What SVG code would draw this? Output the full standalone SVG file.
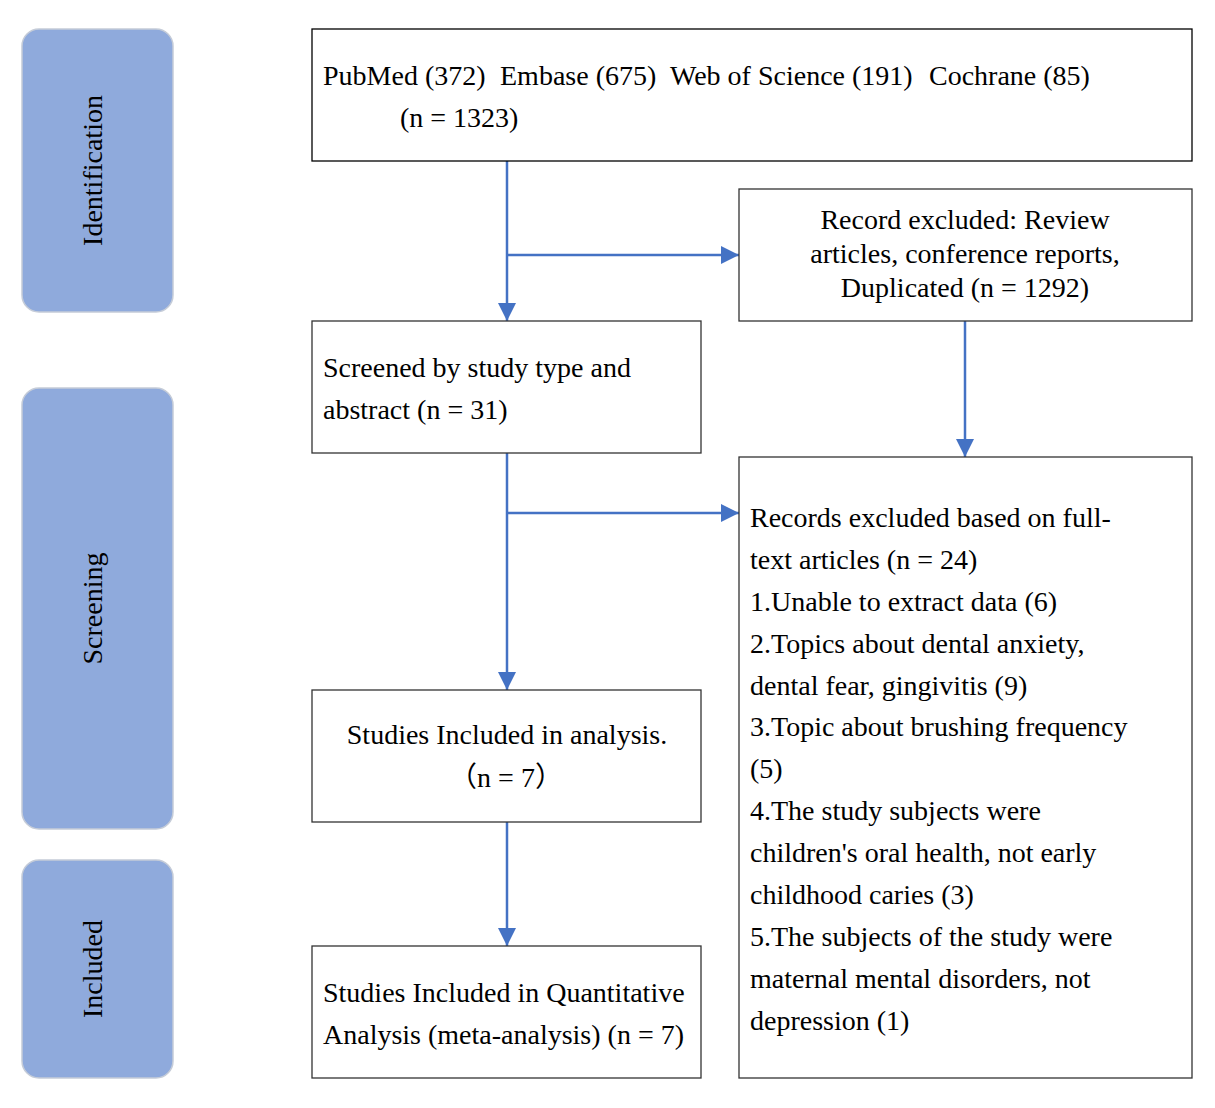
<svg xmlns="http://www.w3.org/2000/svg" width="1215" height="1108" viewBox="0 0 1215 1108">
<style>
.panel{fill:#8faadc;stroke:#c5ccd8;stroke-width:1.5}
.box{fill:#fff;stroke:#333;stroke-width:1.3}
.t{font-family:"Liberation Serif","Times New Roman",serif;font-size:28px;fill:#000}
.c{text-anchor:middle}
.cj{font-family:"Liberation Serif","Noto Sans CJK SC",serif}
.conn{fill:none;stroke:#4472c4;stroke-width:2.5}
</style>
<defs>
<marker id="ah" markerUnits="userSpaceOnUse" markerWidth="20" markerHeight="18" viewBox="0 0 20 18" refX="18" refY="9" orient="auto">
<path d="M0,0 L18,9 L0,18 Z" fill="#4472c4"/>
</marker>
</defs>
<rect width="1215" height="1108" fill="#fff"/>

<g id="panel-identification">
<rect class="panel" x="22" y="29" width="151" height="283" rx="17"/>
<text class="t c" transform="translate(102,170.5) rotate(-90)">Identification</text>
</g>
<g id="panel-screening">
<rect class="panel" x="22" y="388" width="151" height="441" rx="17"/>
<text class="t c" transform="translate(102,608.5) rotate(-90)">Screening</text>
</g>
<g id="panel-included">
<rect class="panel" x="22" y="860" width="151" height="218" rx="17"/>
<text class="t c" transform="translate(102,969) rotate(-90)">Included</text>
</g>

<g id="connectors">
<path class="conn" d="M507,161 V321" marker-end="url(#ah)"/>
<path class="conn" d="M507,255 H739" marker-end="url(#ah)"/>
<path class="conn" d="M965,321 V457" marker-end="url(#ah)"/>
<path class="conn" d="M507,453 V690" marker-end="url(#ah)"/>
<path class="conn" d="M507,513 H739" marker-end="url(#ah)"/>
<path class="conn" d="M507,822 V946" marker-end="url(#ah)"/>
</g>

<g id="node-identified">
<rect class="box" x="312" y="29" width="880" height="132" style="stroke:#000"/>
<text class="t" y="85"><tspan x="323">PubMed (372)</tspan><tspan x="500">Embase (675)</tspan><tspan x="670">Web of Science (191)</tspan><tspan x="929">Cochrane (85)</tspan></text>
<text class="t" x="400" y="127">(n = 1323)</text>
</g>

<g id="node-excluded-1">
<rect class="box" x="739" y="189" width="453" height="132"/>
<text class="t c" x="965" y="229">Record excluded: Review</text>
<text class="t c" x="965" y="263">articles, conference reports,</text>
<text class="t c" x="965" y="297">Duplicated (n = 1292)</text>
</g>

<g id="node-screened">
<rect class="box" x="312" y="321" width="389" height="132"/>
<text class="t" x="323" y="377">Screened by study type and</text>
<text class="t" x="323" y="419">abstract (n = 31)</text>
</g>

<g id="node-excluded-2">
<rect class="box" x="739" y="457" width="453" height="621"/>
<text class="t" x="750" y="527">Records excluded based on full-</text>
<text class="t" x="750" y="569">text articles (n = 24)</text>
<text class="t" x="750" y="611">1.Unable to extract data (6)</text>
<text class="t" x="750" y="653">2.Topics about dental anxiety,</text>
<text class="t" x="750" y="695">dental fear, gingivitis (9)</text>
<text class="t" x="750" y="736">3.Topic about brushing frequency</text>
<text class="t" x="750" y="778">(5)</text>
<text class="t" x="750" y="820">4.The study subjects were</text>
<text class="t" x="750" y="862">children's oral health, not early</text>
<text class="t" x="750" y="904">childhood caries (3)</text>
<text class="t" x="750" y="946">5.The subjects of the study were</text>
<text class="t" x="750" y="988">maternal mental disorders, not</text>
<text class="t" x="750" y="1030">depression (1)</text>
</g>

<g id="node-included-analysis">
<rect class="box" x="312" y="690" width="389" height="132"/>
<text class="t c" x="507" y="744">Studies Included in analysis.</text>
<text class="t c cj" x="506" y="787">（n = 7）</text>
</g>

<g id="node-included-meta">
<rect class="box" x="312" y="946" width="389" height="132"/>
<text class="t" x="323" y="1002">Studies Included in Quantitative</text>
<text class="t" x="323" y="1044">Analysis (meta-analysis) (n = 7)</text>
</g>
</svg>
